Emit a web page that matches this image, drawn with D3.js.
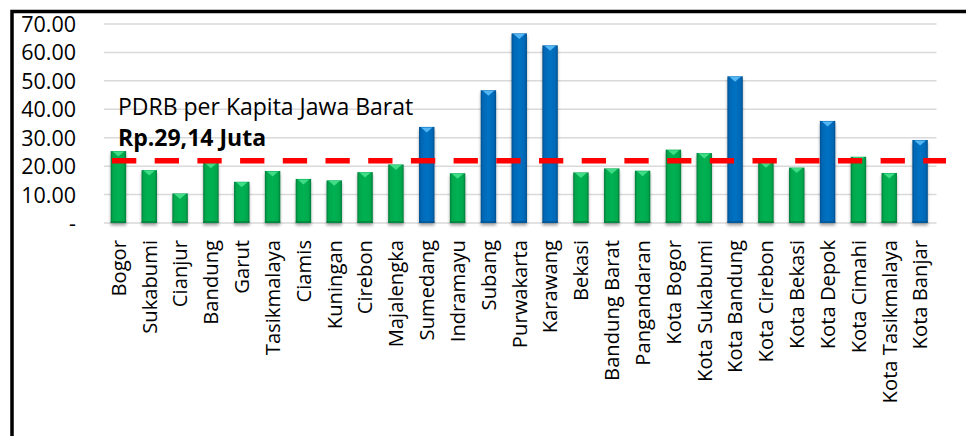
<!DOCTYPE html>
<html>
<head>
<meta charset="utf-8">
<script src="https://cdn.jsdelivr.net/npm/d3@7"></script>
<style>
  html, body { margin: 0; padding: 0; background: #fff; }
  svg { display: block; }
  text { font-family: "Open Sans", Lato, sans-serif; fill: #000; }
</style>
</head>
<body>
<svg id="chart" width="966" height="436"></svg>
<script>
const categories = ["Bogor","Sukabumi","Cianjur","Bandung","Garut","Tasikmalaya","Ciamis","Kuningan","Cirebon","Majalengka","Sumedang","Indramayu","Subang","Purwakarta","Karawang","Bekasi","Bandung Barat","Pangandaran","Kota Bogor","Kota Sukabumi","Kota Bandung","Kota Cirebon","Kota Bekasi","Kota Depok","Kota Cimahi","Kota Tasikmalaya","Kota Banjar"];
const values = [25.3,18.6,10.4,21.2,14.5,18.3,15.5,15.0,17.9,20.6,33.8,17.5,46.7,66.7,62.5,17.8,19.2,18.4,25.8,24.6,51.6,21.4,19.5,35.9,23.3,17.6,29.2];
const aboveAverage = [false,false,false,false,false,false,false,false,false,false,true,false,true,true,true,false,false,false,false,false,true,false,false,true,false,false,true];
const referenceValue = 21.9;
const yTicks = [0,10,20,30,40,50,60,70];
const titleLine1 = "PDRB per Kapita Jawa Barat";
const titleLine2 = "Rp.29,14 Juta";

const svg = d3.select("#chart");
const x = d3.scaleBand().domain(categories).range([103, 935.5]).paddingInner(0.5).paddingOuter(0.25);
const y = d3.scaleLinear().domain([0, 70]).range([223, 24]);

const defs = svg.append("defs");
function grad(id, edge, mid, core) {
  const g = defs.append("linearGradient").attr("id", id).attr("x1", "0").attr("x2", "1").attr("y1", "0").attr("y2", "0");
  [[0, edge], [0.14, mid], [0.5, core], [0.86, mid], [1, edge]].forEach(([o, c]) =>
    g.append("stop").attr("offset", o).attr("stop-color", c));
}
grad("gGreen", "#00793a", "#00a84c", "#00b152");
grad("gBlue", "#004d8a", "#0068b6", "#0071c2");
const f = defs.append("filter").attr("id", "shadow").attr("x", "-50%").attr("y", "-10%").attr("width", "200%").attr("height", "130%");
f.append("feDropShadow").attr("dx", 0).attr("dy", 2.5).attr("stdDeviation", 1.6).attr("flood-color", "#000").attr("flood-opacity", 0.35);

// border
svg.append("path")
  .attr("d", "M12,440 L12,11.5 L970,11.5")
  .attr("fill", "none").attr("stroke", "#000").attr("stroke-width", 3.5);

// gridlines
svg.append("g").selectAll("line").data(yTicks).join("line")
  .attr("x1", x.range()[0] + 1).attr("x2", x.range()[1] + 1)
  .attr("y1", d => y(d)).attr("y2", d => y(d))
  .attr("stroke", "#d9d9d9").attr("stroke-width", 1.5);

// y axis labels
const yAxis = d3.axisLeft(y).tickValues(yTicks).tickSize(0).tickPadding(0)
  .tickFormat(d => d === 0 ? "-" : d3.format(".2f")(d));
const ya = svg.append("g").attr("transform", "translate(76,0)").call(yAxis);
ya.select(".domain").remove();
ya.selectAll("text").attr("font-size", 21.5).attr("font-family", "'Open Sans', sans-serif").attr("fill", "#000").attr("dy", "0.35em");

// bars
const bars = svg.append("g").selectAll("g").data(categories).join("g").attr("filter", "url(#shadow)");
bars.append("rect")
  .attr("x", d => x(d)).attr("width", x.bandwidth())
  .attr("y", (d, i) => y(values[i])).attr("height", (d, i) => y(0) - y(values[i]))
  .attr("fill", (d, i) => aboveAverage[i] ? "url(#gBlue)" : "url(#gGreen)");
bars.append("path")
  .attr("d", (d, i) => {
    const x0 = x(d) + 2, x1 = x(d) + x.bandwidth() - 2, t = y(values[i]) + 0.5;
    return `M${x0},${t} L${x1},${t} L${(x0 + x1) / 2},${t + 5} Z`;
  })
  .attr("fill", (d, i) => aboveAverage[i] ? "#52b6f2" : "#3fdc86");
bars.append("rect")
  .attr("x", d => x(d)).attr("width", x.bandwidth())
  .attr("y", y(0) - 2).attr("height", 2)
  .attr("fill", (d, i) => aboveAverage[i] ? "#00508c" : "#007a3a").attr("opacity", 0.6);

// reference dashed line
svg.append("line")
  .attr("x1", x.range()[0] + 9).attr("x2", x.range()[1] + 10.5)
  .attr("y1", y(referenceValue)).attr("y2", y(referenceValue))
  .attr("stroke", "#ff0000").attr("stroke-width", 5.5)
  .attr("stroke-dasharray", "24.3,18.4");

// x labels
svg.append("g").selectAll("text").data(categories).join("text")
  .attr("transform", d => `translate(${x(d) + x.bandwidth() / 2},240) rotate(-90)`)
  .attr("text-anchor", "end").attr("dy", "0.36em")
  .attr("font-size", 20.2).text(d => d);

// annotation
svg.append("text").attr("x", 118).attr("y", 115).attr("font-size", 23).text(titleLine1);
svg.append("text").attr("x", 118).attr("y", 145.5).attr("font-size", 23).attr("font-weight", "bold").text(titleLine2);
</script>
</body>
</html>
